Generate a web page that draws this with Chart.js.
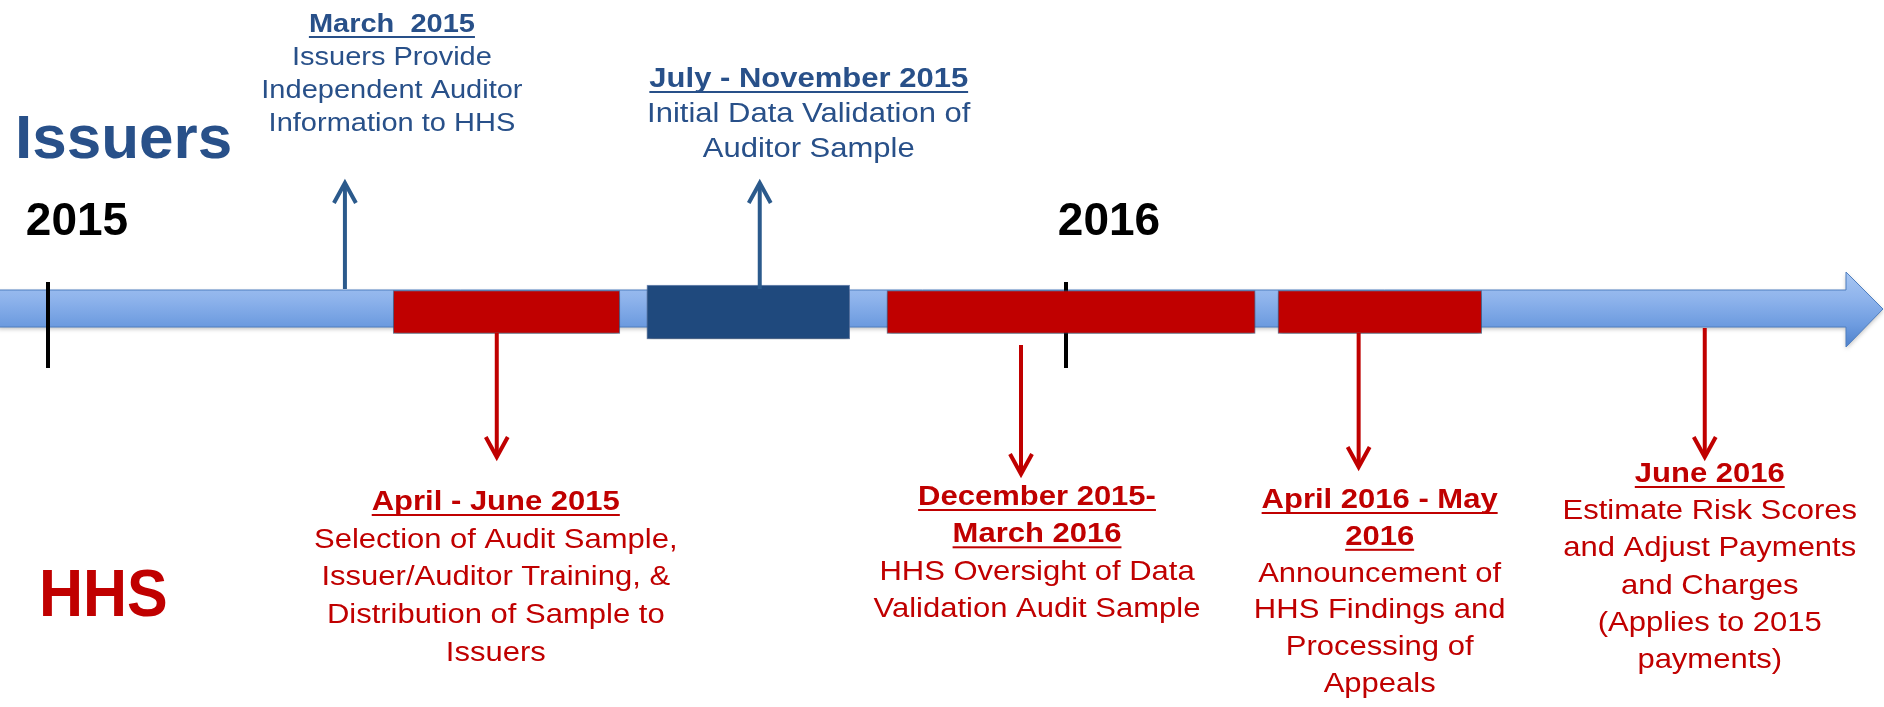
<!DOCTYPE html>
<html>
<head>
<meta charset="utf-8">
<script src="https://cdn.jsdelivr.net/npm/chart.js@4.4.1/dist/chart.umd.min.js"></script>
<style>
    html, body { margin: 0; padding: 0; background: #fff; }
</style>
</head>
<body>
<canvas id="timeline" width="1884" height="707"></canvas>
<script>
// x = position along the timeline, in months from Jan 2015 (as drawn on the slide)
const yearTicks = [0, 12];
const yearLabels = ["2015", "2016"];

const hhsPeriods = [[4.07, 6.74], [9.89, 14.23], [14.5, 16.9]];
const issuerPeriods = [[7.06, 9.45]];

const issuerMilestones = [3.5, 8.39];
const hhsMilestones = [5.29, 11.47, 15.45, 19.53];

const issuerHeads = [["March  2015"], ["July - November 2015"]];
const issuerBodies = [
    ["Issuers Provide", "Independent Auditor", "Information to HHS"],
    ["Initial Data Validation of", "Auditor Sample"],
];
const hhsHeads = [["April - June 2015"], ["December 2015-", "March 2016"], ["April 2016 - May", "2016"], ["June 2016"]];
const hhsBodies = [
    ["Selection of Audit Sample,", "Issuer/Auditor Training, &", "Distribution of Sample to", "Issuers"],
    ["HHS Oversight of Data", "Validation Audit Sample"],
    ["Announcement of", "HHS Findings and", "Processing of", "Appeals"],
    ["Estimate Risk Scores", "and Adjust Payments", "and Charges", "(Applies to 2015", "payments)"],
];

// colours
const RED = "#C00000";
const NAVY = "#1F497D";
const BLUE_TXT = "#285089";
const BLUE_ARROW = "#2B5A8C";
const FONT = '"Liberation Sans", Arial, sans-serif';

// text block placement (pixels)
const issuerLayout = [
    { dx: 47, top: 32, gap: 33, size: 29, sy: 0.92 },
    { dx: 49, top: 87, gap: 35, size: 31, sy: 0.9 },
];
const hhsLayout = [
    { dx: -1, top: 510, gap: 37.7, size: 31, sy: 0.9 },
    { dx: 16, top: 505, gap: 37.3, size: 31, sy: 0.9 },
    { dx: 21, top: 508, gap: 36.8, size: 31, sy: 0.9 },
    { dx: 5, top: 482, gap: 37.2, size: 31, sy: 0.9 },
];
const hhsArrowY = [[333, 457], [345, 474], [333, 467], [328, 457]];

function txt(ctx, s, x, y, size, bold, color, sy, align, underline) {
    ctx.save();
    ctx.font = (bold ? "bold " : "") + size + "px " + FONT;
    ctx.fillStyle = color;
    ctx.textAlign = align || "center";
    ctx.textBaseline = "alphabetic";
    const w = ctx.measureText(s).width;
    ctx.translate(x, y);
    ctx.scale(1, sy);
    ctx.fillText(s, 0, 0);
    ctx.restore();
    if (underline) {
        ctx.fillStyle = color;
        const x0 = align === "left" ? x : x - w / 2;
        ctx.fillRect(x0, y + 4, w, 2);
    }
}

function arrow(ctx, x, y0, y1, color) {
    const dir = y1 > y0 ? 1 : -1;
    ctx.save();
    ctx.strokeStyle = color;
    ctx.lineWidth = 4;
    ctx.beginPath();
    ctx.moveTo(x, y0);
    ctx.lineTo(x, y1 - dir * 2);
    ctx.stroke();
    ctx.lineJoin = "miter";
    ctx.beginPath();
    ctx.moveTo(x - 11, y1 - dir * 20);
    ctx.lineTo(x, y1);
    ctx.lineTo(x + 11, y1 - dir * 20);
    ctx.stroke();
    ctx.restore();
}

const timelinePlugin = {
    id: "timeline",
    beforeDraw(chart) {
        const ctx = chart.ctx;
        const x = chart.scales.x;
        const left = chart.chartArea.left;
        const right = chart.chartArea.right - 1;
        const headBase = right - 37;
        ctx.save();
        ctx.fillStyle = "#fff";
        ctx.fillRect(0, 0, chart.width, chart.height);
        const g = ctx.createLinearGradient(0, 272, 0, 347);
        g.addColorStop(0, "#A7C6F2");
        g.addColorStop(0.35, "#8FB4EC");
        g.addColorStop(0.7, "#6E9CE0");
        g.addColorStop(1, "#4F82CC");
        ctx.shadowColor = "rgba(0,0,0,0.25)";
        ctx.shadowBlur = 4;
        ctx.shadowOffsetY = 2;
        ctx.beginPath();
        ctx.moveTo(left - 2, 290);
        ctx.lineTo(headBase, 290);
        ctx.lineTo(headBase, 272);
        ctx.lineTo(right, 309);
        ctx.lineTo(headBase, 347);
        ctx.lineTo(headBase, 327);
        ctx.lineTo(left - 2, 327);
        ctx.closePath();
        ctx.fillStyle = g;
        ctx.fill();
        ctx.shadowColor = "transparent";
        ctx.strokeStyle = "#4F7FC0";
        ctx.lineWidth = 1;
        ctx.stroke();

        // year ticks
        ctx.strokeStyle = "#000";
        ctx.lineWidth = 4;
        yearTicks.forEach((t) => {
            const px = x.getPixelForValue(t);
            ctx.beginPath();
            ctx.moveTo(px, 282);
            ctx.lineTo(px, 368);
            ctx.stroke();
        });
        ctx.restore();
    },
    beforeDatasetsDraw(chart) {
        const ctx = chart.ctx;
        ctx.save();
        ctx.shadowColor = "rgba(0,0,0,0.35)";
        ctx.shadowBlur = 5;
        ctx.shadowOffsetY = 3;
    },
    afterDatasetsDraw(chart) {
        chart.ctx.restore();
    },
    afterDraw(chart) {
        const ctx = chart.ctx;
        const x = chart.scales.x;

        // side captions
        txt(ctx, "Issuers", 15, 158, 62, true, BLUE_TXT, 1, "left");
        ctx.save();
        ctx.translate(39, 616);
        ctx.scale(1, 1.1);
        ctx.font = "bold 61px " + FONT;
        ctx.fillStyle = RED;
        ctx.fillText("HHS", 0, 0);
        ctx.restore();

        // year labels
        const yearDx = [29, 43];
        yearTicks.forEach((t, i) => {
            txt(ctx, yearLabels[i], x.getPixelForValue(t) + yearDx[i], 235, 46, true, "#000", 1);
        });

        // issuer milestones (above)
        issuerMilestones.forEach((m, i) => {
            const px = x.getPixelForValue(m);
            arrow(ctx, px, 289, 183, BLUE_ARROW);
            const L = issuerLayout[i];
            let y = L.top;
            issuerHeads[i].forEach((s) => {
                txt(ctx, s, px + L.dx, y, L.size, true, BLUE_TXT, L.sy, "center", true);
                y += L.gap;
            });
            issuerBodies[i].forEach((s) => {
                txt(ctx, s, px + L.dx, y, L.size, false, BLUE_TXT, L.sy);
                y += L.gap;
            });
        });

        // HHS milestones (below)
        hhsMilestones.forEach((m, i) => {
            const px = x.getPixelForValue(m);
            arrow(ctx, px, hhsArrowY[i][0], hhsArrowY[i][1], RED);
            const L = hhsLayout[i];
            let y = L.top;
            hhsHeads[i].forEach((s) => {
                txt(ctx, s, px + L.dx, y, L.size, true, RED, L.sy, "center", true);
                y += L.gap;
            });
            hhsBodies[i].forEach((s) => {
                txt(ctx, s, px + L.dx, y, L.size, false, RED, L.sy);
                y += L.gap;
            });
        });
    },
};

const ctx = document.getElementById("timeline").getContext("2d");
const chart = new Chart(ctx, {
    type: "bar",
    data: {
        labels: ["timeline"],
        datasets: [
            {
                label: "HHS",
                data: hhsPeriods.map((p) => ({ x: p, y: "timeline" })),
                backgroundColor: RED,
                borderColor: "rgba(70,90,130,0.7)",
                borderWidth: 1,
                borderSkipped: false,
                barThickness: 43,
                grouped: false,
            },
            {
                label: "Issuers",
                data: issuerPeriods.map((p) => ({ x: p, y: "timeline" })),
                backgroundColor: NAVY,
                borderColor: "rgba(90,120,170,0.8)",
                borderWidth: 1,
                borderSkipped: false,
                barThickness: 54,
                grouped: false,
            },
        ],
    },
    options: {
        indexAxis: "y",
        responsive: false,
        animation: false,
        devicePixelRatio: 1,
        layout: { padding: { top: 250, bottom: 333, left: 0, right: 0 } },
        plugins: {
            legend: { display: false },
            tooltip: { enabled: false },
        },
        scales: {
            x: { type: "linear", min: -0.566, max: 21.643, display: false },
            y: { type: "category", display: false },
        },
    },
    plugins: [timelinePlugin],
});
</script>
</body>
</html>
